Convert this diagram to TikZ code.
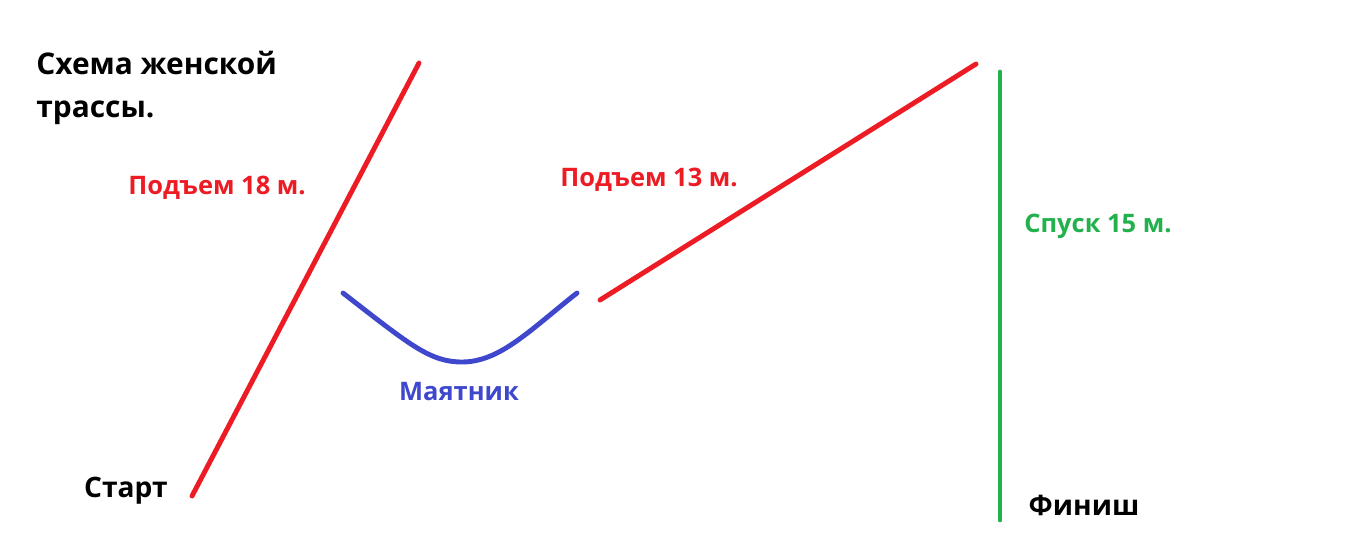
\documentclass[tikz,border=0pt]{standalone}
\usepackage{fontspec}
\setmainfont{Open Sans}
\usepackage{xcolor}
\usetikzlibrary{positioning,calc}
\definecolor{paintred}{RGB}{237,28,36}
\definecolor{paintblue}{RGB}{63,72,204}
\definecolor{paintgreen}{RGB}{34,177,76}

\begin{document}
\begin{tikzpicture}[x=0.02cm, y=-0.02cm]
\tikzstyle{t} = [font=\bfseries\fontsize{17}{24}\selectfont, inner sep=0pt]
\tikzstyle{s} = [font=\bfseries\fontsize{14.5}{17}\selectfont, inner sep=0pt]
\tikzstyle{l} = [line width=2.8pt, line cap=round]
\useasboundingbox (0,0) rectangle (1360,556);
% track ends
\coordinate (start) at (192,496);
\coordinate (top1) at (419,63);
\coordinate (pl) at (343,293);
\coordinate (pr) at (577,293);
\coordinate (up2) at (600,300);
\coordinate (top2) at (976,64);
\coordinate (fin1) at (1000,72);
\coordinate (fin2) at (1000,520);
% labels
\node [t, align=left, anchor=base west] (title) at (36,117) {Схема женской\\трассы.};
\node [s, text=paintred] (rise1) at (217,188) {Подъем 18 м.};
\node [s, text=paintred] (rise2) at (649,180) {Подъем 13 м.};
\node [s, text=paintgreen] (down) at (1098,226) {Спуск 15 м.};
\node [s, text=paintblue] (pend) at (459,392) {Маятник};
\node [t, font=\bfseries\fontsize{16}{19}\selectfont] (startlbl) at (126,491) {Старт};
\node [t, font=\bfseries\fontsize{16}{19}\selectfont] (finlbl) at (1084,505) {Финиш};
% track
\draw [l, paintred] (start) -- (top1);
\draw [l, paintblue] (pl) .. controls (410,345) and (430,362) .. (462,362) .. controls (500,362) and (530,330) .. (pr);
\draw [l, paintred] (up2) -- (top2);
\draw [l, paintgreen] (fin1) -- (fin2);
\end{tikzpicture}
\end{document}
